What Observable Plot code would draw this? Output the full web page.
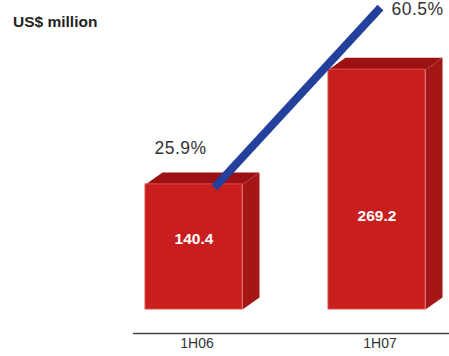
<!DOCTYPE html>
<html>
<head>
<meta charset="utf-8">
<script src="https://cdn.jsdelivr.net/npm/d3@7"></script>
<script src="https://cdn.jsdelivr.net/npm/@observablehq/plot@0.6"></script>
<style>
  html, body { margin: 0; padding: 0; background: #fff; }
  #wrap { position: relative; width: 449px; height: 356px; overflow: hidden; }
  #wrap svg { position: absolute; left: 0; top: 0; }
  #title { position: absolute; left: 13px; top: 14px; font: bold 15.5px "Liberation Sans", Arial, sans-serif; line-height: 1; color: #222; white-space: nowrap; }
  .pct text { letter-spacing: 0.5px; }
</style>
</head>
<body>
<div id="wrap"><div id="title">US$ million</div></div>
<script>
// data
const categories = ["1H06", "1H07"];
const values = [140.4, 269.2];
const growthPct = [25.9, 60.5];
const growthLabels = ["25.9%", "60.5%"];

const bars = categories.map((c, i) => ({cat: c, i, value: values[i]}));
const growth = categories.map((c, i) => ({cat: c, pct: growthPct[i], label: growthLabels[i]}));

// 3D geometry (style constants in scale units)
const hw = 0.265;      // half front width
const ddx = 0.0929;    // depth x
const ddy = 13.47;     // depth y

const topFaces = bars.flatMap(d => [
  {z: d.i, x: d.i - hw, y: d.value},
  {z: d.i, x: d.i + hw, y: d.value},
  {z: d.i, x: d.i + hw + ddx, y: d.value + ddy},
  {z: d.i, x: d.i - hw + ddx, y: d.value + ddy}
]);
const sideFaces = bars.flatMap(d => [
  {z: d.i, x: d.i + hw, y: 0},
  {z: d.i, x: d.i + hw, y: d.value},
  {z: d.i, x: d.i + hw + ddx, y: d.value + ddy},
  {z: d.i, x: d.i + hw + ddx, y: ddy}
]);

const xDomain = [-0.3306, 1.3962];
const yDomain = [-26.94, 346.8];

const barPlot = Plot.plot({
  width: 449, height: 356,
  marginLeft: 133, marginRight: 0, marginTop: 0, marginBottom: 23,
  x: {type: "linear", domain: xDomain, axis: null},
  y: {type: "linear", domain: yDomain, axis: null},
  marks: [
    Plot.line(sideFaces, {x: "x", y: "y", z: "z", fill: "#a51616", stroke: "none", curve: "linear"}),
    Plot.line(topFaces, {x: "x", y: "y", z: "z", fill: "#9c1111", stroke: "none", curve: "linear"}),
    Plot.rect(bars, {x1: d => d.i - hw, x2: d => d.i + hw, y1: 0, y2: "value", fill: "#c91e1e", stroke: "#dc5050", strokeWidth: 1}),
    Plot.text(bars, {filter: d => d.i === 0, x: "i", y: d => d.value / 2, text: d => d.value.toFixed(1), fill: "white", fontWeight: "bold", fontSize: 15.5, fontFamily: "Liberation Sans, Arial, sans-serif", dy: -8}),
    Plot.text(bars, {filter: d => d.i === 1, x: "i", y: d => d.value / 2, text: d => d.value.toFixed(1), fill: "white", fontWeight: "bold", fontSize: 15.5, fontFamily: "Liberation Sans, Arial, sans-serif", dy: 26.5}),
    Plot.ruleY([yDomain[0]], {stroke: "#444", strokeWidth: 1.5}),
    Plot.text(categories, {x: (d, i) => i, frameAnchor: "bottom", dy: 14.5, dx: 3, text: d => d, fill: "#333", fontSize: 14, fontFamily: "Liberation Sans, Arial, sans-serif"})
  ]
});

const linePlot = Plot.plot({
  width: 449, height: 356,
  marginLeft: 214, marginRight: 69, marginTop: 7, marginBottom: 169,
  className: "pct",
  style: {background: "transparent", overflow: "visible"},
  x: {type: "point", domain: categories, padding: 0, axis: null},
  y: {type: "linear", axis: null},
  marks: [
    Plot.line(growth, {x: "cat", y: "pct", stroke: "#22409c", strokeWidth: 8, strokeLinecap: "butt"}),
    Plot.text(growth, {filter: d => d.cat === categories[0], x: "cat", y: "pct", text: "label", textAnchor: "middle", dx: -34, dy: -39, fill: "#333", fontSize: 17.5, fontFamily: "Liberation Sans, Arial, sans-serif"}),
    Plot.text(growth, {filter: d => d.cat === categories[1], x: "cat", y: "pct", text: "label", textAnchor: "start", dx: 11, dy: 1.5, fill: "#333", fontSize: 17.5, fontFamily: "Liberation Sans, Arial, sans-serif"})
  ]
});

const wrap = document.getElementById("wrap");
wrap.insertBefore(barPlot, wrap.firstChild);
wrap.appendChild(linePlot);
</script>
</body>
</html>
